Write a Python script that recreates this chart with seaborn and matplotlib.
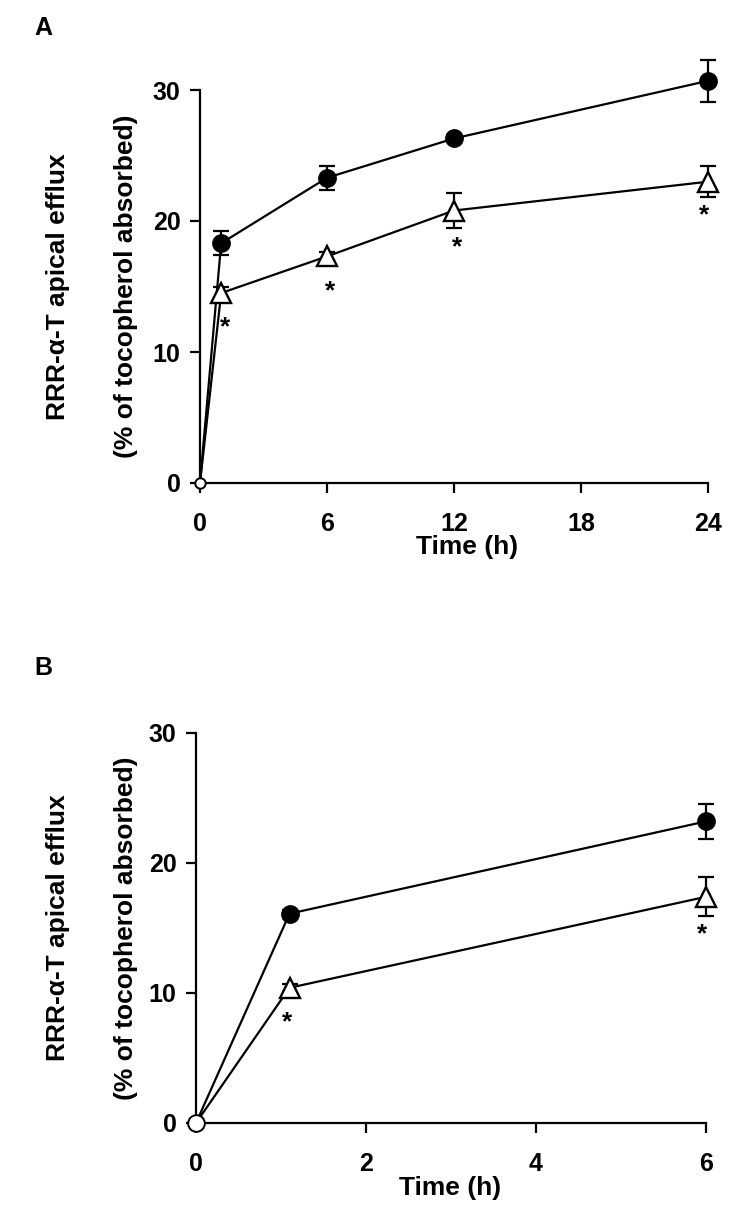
import matplotlib
matplotlib.use("Agg")
import matplotlib.pyplot as plt
import seaborn as sns
import pandas as pd
import numpy as np

# panel A: 0-24 h
a_time = [0, 1, 6, 12, 24]
a_ctrl = [0, 18.3, 23.3, 26.3, 30.7]
a_ctrl_err = [0, 0.9, 0.9, 0.3, 1.6]
a_treat = [0, 14.5, 17.3, 20.8, 23.0]
a_treat_err = [0, 0.5, 0.3, 1.35, 1.2]
a_star_x = [1.2, 6.15, 12.15, 23.8]
a_star_y = [11.9, 14.6, 18.0, 20.4]
a_xticks = [0, 6, 12, 18, 24]

# panel B: 0-6 h
b_time = [0, 1.1, 6]
b_ctrl = [0, 16.1, 23.2]
b_ctrl_err = [0, 0.3, 1.35]
b_treat = [0, 10.4, 17.4]
b_treat_err = [0, 0.3, 1.5]
b_star_x = [1.07, 5.95]
b_star_y = [7.75, 14.55]
b_xticks = [0, 2, 4, 6]

yticks = [0, 10, 20, 30]

sns.set_theme(style="ticks")
plt.rcParams['font.family'] = ['Liberation Sans', 'DejaVu Sans']
plt.rcParams['font.weight'] = 'bold'
for key in ['text.color', 'axes.labelcolor', 'xtick.color', 'ytick.color', 'axes.edgecolor']:
    plt.rcParams[key] = 'black'

W, H = 753, 1218
fig = plt.figure(figsize=(W / 100, H / 100), dpi=100)


def px_axes(left, top, right, bottom):
    return fig.add_axes([left / W, 1 - bottom / H, (right - left) / W, (bottom - top) / H])


def draw_panel(ax, t, ctrl, ctrl_err, treat, treat_err, star_x, star_y, xticks, origin_ms):
    df = pd.DataFrame({'Time': t * 2, 'Value': ctrl + treat,
                       'Group': ['ctrl'] * len(t) + ['treat'] * len(t)})
    sns.lineplot(data=df, x='Time', y='Value', units='Group', estimator=None,
                 color='black', linewidth=1.6, ax=ax, legend=False, clip_on=False)
    ax.errorbar(t[1:], ctrl[1:], yerr=ctrl_err[1:], fmt='none', ecolor='black',
                elinewidth=1.6, capsize=6, capthick=1.6, clip_on=False, zorder=3)
    ax.errorbar(t[1:], treat[1:], yerr=treat_err[1:], fmt='none', ecolor='black',
                elinewidth=1.6, capsize=6, capthick=1.6, clip_on=False, zorder=3)
    ax.plot(t[1:], ctrl[1:], 'o', color='black', markersize=12.5, clip_on=False, zorder=4)
    ax.plot(t[1:], treat[1:], '^', markerfacecolor='white', markeredgecolor='black',
            markeredgewidth=1.7, markersize=14, clip_on=False, zorder=4)
    ax.plot([t[0]], [ctrl[0]], 'o', markerfacecolor='white', markeredgecolor='black',
            markeredgewidth=1.4, markersize=origin_ms, clip_on=False, zorder=5)
    for sx, sy in zip(star_x, star_y):
        ax.text(sx, sy, '*', ha='center', va='center', fontsize=19, fontweight='bold')
    ax.set_xlim(xticks[0], xticks[-1])
    ax.set_ylim(0, 30)
    ax.set_xticks(xticks)
    ax.set_yticks(yticks)
    ax.set_xlabel('')
    ax.set_ylabel('')
    sns.despine(ax=ax)
    for s in ['left', 'bottom']:
        ax.spines[s].set_linewidth(1.6)
    ax.tick_params(axis='both', length=7, width=1.6, labelsize=18)
    ax.tick_params(axis='x', pad=14)
    ax.tick_params(axis='y', pad=7)
    for lab in ax.get_xticklabels() + ax.get_yticklabels():
        lab.set_fontweight('bold')


ax_a = px_axes(200, 90, 708, 483)
draw_panel(ax_a, a_time, a_ctrl, a_ctrl_err, a_treat, a_treat_err,
           a_star_x, a_star_y, a_xticks, origin_ms=7.5)
ax_b = px_axes(196, 733, 706, 1123)
draw_panel(ax_b, b_time, b_ctrl, b_ctrl_err, b_treat, b_treat_err,
           b_star_x, b_star_y, b_xticks, origin_ms=12)

for top, bottom, time_y, time_x in [(90, 483, 547, 467), (733, 1123, 1188, 450)]:
    mid = (top + bottom) / 2
    fig.text(58 / W, 1 - mid / H, 'RRR-\u03b1-T apical efflux', rotation=90,
             ha='center', va='center', fontsize=19, fontweight='bold')
    fig.text(126 / W, 1 - mid / H, '(% of tocopherol absorbed)', rotation=90,
             ha='center', va='center', fontsize=19, fontweight='bold')
    fig.text(time_x / W, 1 - time_y / H, 'Time (h)', ha='center', va='center',
             fontsize=19, fontweight='bold')

fig.text(43 / W, 1 - 28 / H, 'A', ha='center', va='center', fontsize=18, fontweight='bold')
fig.text(43 / W, 1 - 668 / H, 'B', ha='center', va='center', fontsize=18, fontweight='bold')

fig.savefig('out.png', dpi=100)
